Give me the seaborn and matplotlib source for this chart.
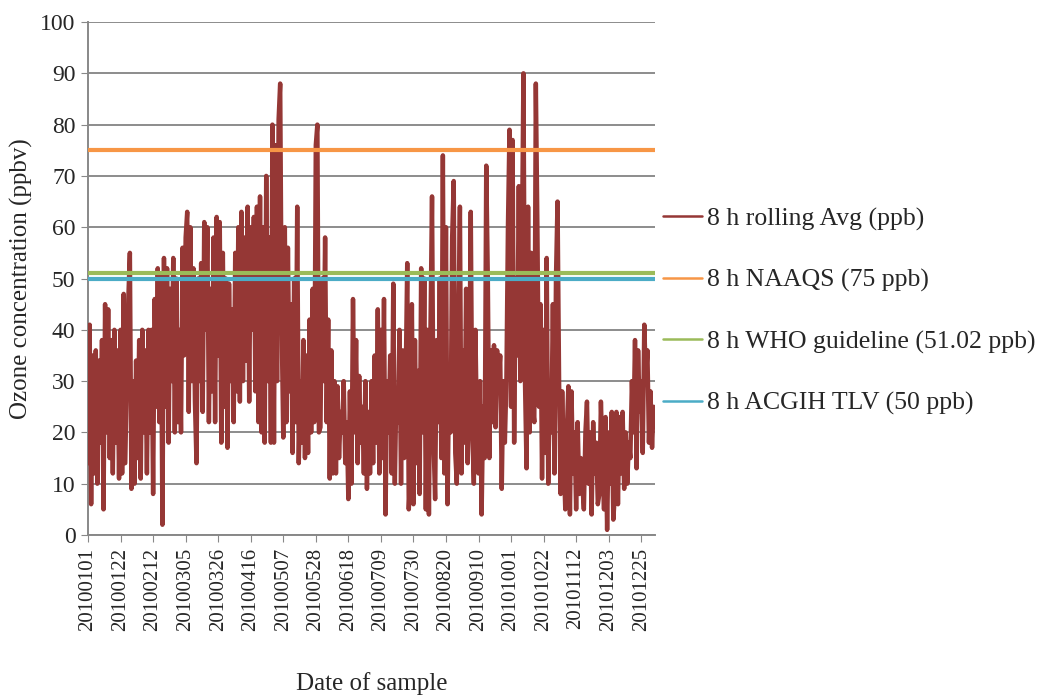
import numpy as np
import pandas as pd
import matplotlib
matplotlib.use("Agg")
import matplotlib.pyplot as plt
import seaborn as sns

# 8 h rolling average ozone, one value per day
ozone_ppb = [
    14, 41, 6, 35, 12, 36, 10, 34, 18, 38,
    5, 45, 20, 44, 15, 38, 12, 40, 18, 36,
    11, 40, 12, 47, 14, 30, 46, 55, 9, 30,
    10, 34, 15, 38, 11, 40, 20, 36, 12, 40,
    20, 40, 8, 46, 25, 52, 22, 51, 2, 54,
    25, 52, 18, 48, 30, 54, 20, 50, 22, 40,
    20, 56, 35, 58, 63, 24, 60, 30, 52, 26,
    14, 50, 30, 53, 24, 61, 40, 60, 22, 48,
    28, 58, 22, 62, 35, 61, 18, 55, 25, 50,
    17, 49, 30, 44, 22, 55, 28, 60, 26, 63,
    30, 58, 34, 64, 26, 60, 40, 62, 28, 64,
    22, 66, 20, 60, 18, 70, 30, 58, 18, 80,
    18, 76, 30, 81, 88, 40, 19, 60, 22, 56,
    28, 45, 16, 50, 22, 64, 14, 30, 18, 38,
    15, 35, 16, 42, 20, 48, 22, 76, 80, 20,
    21, 50, 30, 58, 22, 42, 11, 36, 12, 30,
    12, 29, 15, 24, 20, 30, 14, 22, 7, 28,
    10, 46, 20, 38, 14, 31, 18, 25, 12, 30,
    9, 24, 12, 30, 14, 35, 18, 44, 12, 40,
    15, 46, 4, 30, 20, 35, 12, 49, 10, 28,
    22, 40, 10, 36, 15, 30, 53, 5, 12, 45,
    6, 38, 14, 32, 8, 52, 20, 50, 5, 40,
    4, 40, 66, 18, 7, 38, 22, 50, 15, 74,
    12, 60, 6, 30, 20, 58, 69, 16, 10, 40,
    64, 12, 36, 18, 48, 14, 30, 63, 20, 10,
    40, 20, 12, 30, 4, 25, 15, 72, 50, 15,
    36, 22, 37, 21, 36, 30, 35, 9, 30, 18,
    30, 60, 79, 25, 77, 18, 50, 35, 68, 30,
    55, 90, 30, 13, 64, 20, 55, 25, 22, 88,
    60, 25, 45, 11, 40, 16, 54, 10, 30, 20,
    45, 12, 50, 65, 30, 8, 28, 15, 5, 20,
    29, 4, 28, 12, 20, 5, 22, 8, 15, 10,
    5, 20, 26, 10, 20, 4, 22, 12, 18, 6,
    8, 26, 15, 5, 23, 1, 20, 10, 24, 3,
    8, 24, 6, 23, 12, 24, 9, 20, 10, 18,
    15, 30, 20, 38, 13, 36, 24, 30, 16, 41, 30, 36, 18, 28, 17, 25,
]

date_labels = ["20100101", "20100122", "20100212", "20100305", "20100326",
               "20100416", "20100507", "20100528", "20100618", "20100709",
               "20100730", "20100820", "20100910", "20101001", "20101022",
               "20101112", "20101203", "20101225"]
label_step = 21

limit_names = ["8 h NAAQS (75 ppb)", "8 h WHO guideline (51.02 ppb)", "8 h ACGIH TLV (50 ppb)"]
limit_values = [75, 51.02, 50]
limit_colors = ["#F79646", "#9BBB59", "#4BACC6"]

df = pd.DataFrame({"day": np.arange(len(ozone_ppb)), "ozone": ozone_ppb})

sns.set_style("white")
plt.rcParams["font.family"] = ["Liberation Serif", "DejaVu Serif"]

fig = plt.figure(figsize=(10.62, 6.96), dpi=100)
ax = fig.add_axes([0.0829, 0.2313, 0.534, 0.7371])

sns.lineplot(data=df, x="day", y="ozone", ax=ax, color="#953735",
             linewidth=3.2, label="8 h rolling Avg (ppb)", zorder=3)
for name, val, col in zip(limit_names, limit_values, limit_colors):
    ax.axhline(val, color=col, linewidth=3, label=name, zorder=4)

ax.set_xlim(0, len(ozone_ppb))
ax.set_ylim(0, 100)
ax.set_yticks(np.arange(0, 101, 10))
ax.set_xticks(np.arange(len(date_labels)) * label_step)
ax.set_xticklabels(date_labels, rotation=90, fontsize=15)
ax.tick_params(axis="y", labelsize=17, length=5, pad=4, color="#888888", direction="out", left=True)
ax.tick_params(axis="x", length=5, pad=4, color="#888888", direction="out", bottom=True)
ax.yaxis.grid(True, color="#8c8c8c", linewidth=1.4, zorder=0)
ax.set_axisbelow(True)
for side in ["top", "right"]:
    ax.spines[side].set_visible(False)
for side in ["left", "bottom"]:
    ax.spines[side].set_color("#888888")
    ax.spines[side].set_linewidth(1.4)

ax.set_xlabel("Date of sample", fontsize=18, labelpad=30)
ax.set_ylabel("Ozone concentration (ppbv)", fontsize=18, labelpad=5)

leg = ax.legend(loc="center left", bbox_to_anchor=(1.013, 0.436), frameon=False,
                fontsize=18.5, handlelength=1.55, handletextpad=0.2, labelspacing=1.48,
                borderaxespad=0, borderpad=0)
for line in leg.get_lines():
    line.set_linewidth(1.8)

fig.savefig("out.png", dpi=100)
